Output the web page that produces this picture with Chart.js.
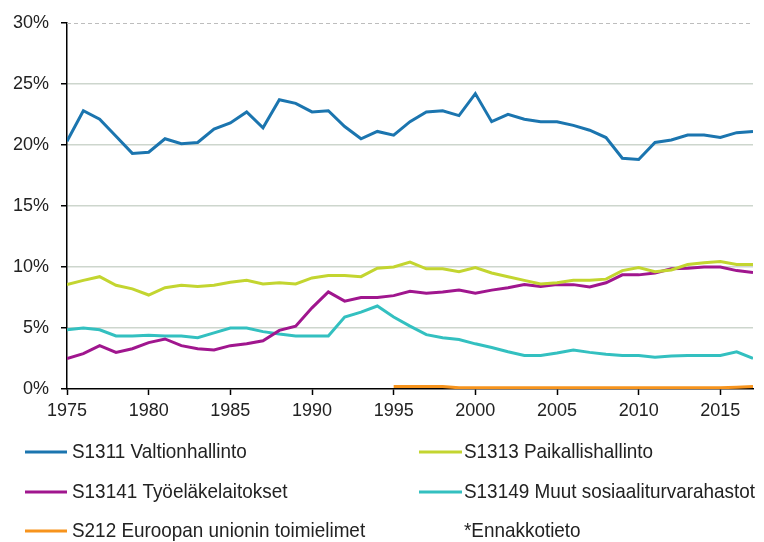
<!DOCTYPE html>
<html>
<head>
<meta charset="utf-8">
<script src="https://cdn.jsdelivr.net/npm/chart.js@4.4.0/dist/chart.umd.min.js"></script>
<style>
  html, body { margin: 0; padding: 0; background: #fff; }
  #wrap { width: 764px; height: 542px; }
</style>
</head>
<body>
<div id="wrap"><canvas id="chart" width="764" height="542"></canvas></div>
<script>
// years on the x axis
var years = [1975, 1976, 1977, 1978, 1979, 1980, 1981, 1982, 1983, 1984,
             1985, 1986, 1987, 1988, 1989, 1990, 1991, 1992, 1993, 1994,
             1995, 1996, 1997, 1998, 1999, 2000, 2001, 2002, 2003, 2004,
             2005, 2006, 2007, 2008, 2009, 2010, 2011, 2012, 2013, 2014,
             2015, 2016, 2017];

// share of total, %
var valtionhallinto = [20.3, 22.8, 22.1, 20.7, 19.3, 19.4, 20.5, 20.1, 20.2, 21.3,
                       21.8, 22.7, 21.4, 23.7, 23.4, 22.7, 22.8, 21.5, 20.5, 21.1,
                       20.8, 21.9, 22.7, 22.8, 22.4, 24.2, 21.9, 22.5, 22.1, 21.9,
                       21.9, 21.6, 21.2, 20.6, 18.9, 18.8, 20.2, 20.4, 20.8, 20.8,
                       20.6, 21.0, 21.1];
var paikallishallinto = [8.55, 8.9, 9.2, 8.5, 8.2, 7.7, 8.3, 8.5, 8.4, 8.5,
                         8.75, 8.9, 8.6, 8.7, 8.6, 9.1, 9.3, 9.3, 9.2, 9.9,
                         10.0, 10.4, 9.85, 9.85, 9.6, 9.95, 9.5, 9.2, 8.9, 8.6,
                         8.7, 8.9, 8.9, 9.0, 9.7, 9.95, 9.6, 9.75, 10.2, 10.35,
                         10.45, 10.2, 10.2];
var tyoelakelaitokset = [2.5, 2.9, 3.55, 3.0, 3.3, 3.8, 4.1, 3.55, 3.3, 3.2,
                         3.55, 3.7, 3.95, 4.8, 5.15, 6.65, 7.95, 7.2, 7.5, 7.5,
                         7.65, 8.0, 7.85, 7.95, 8.1, 7.85, 8.1, 8.3, 8.55, 8.4,
                         8.55, 8.55, 8.35, 8.7, 9.35, 9.35, 9.5, 9.85, 9.9, 10.0,
                         10.0, 9.7, 9.55];
var muutSosiaali = [4.85, 5.0, 4.85, 4.35, 4.35, 4.4, 4.35, 4.35, 4.2, 4.6,
                    5.0, 5.0, 4.7, 4.5, 4.35, 4.35, 4.35, 5.9, 6.3, 6.8,
                    5.9, 5.15, 4.45, 4.2, 4.05, 3.7, 3.4, 3.05, 2.75, 2.75,
                    2.95, 3.2, 3.0, 2.85, 2.75, 2.75, 2.6, 2.7, 2.75, 2.75,
                    2.75, 3.05, 2.5];
var euToimielimet = [null, null, null, null, null, null, null, null, null, null,
                     null, null, null, null, null, null, null, null, null, null,
                     0.2, 0.2, 0.2, 0.2, 0.1, 0.1, 0.1, 0.1, 0.1, 0.1,
                     0.1, 0.1, 0.1, 0.1, 0.1, 0.1, 0.1, 0.1, 0.1, 0.1,
                     0.1, 0.15, 0.2];

var yTicks = [0, 5, 10, 15, 20, 25, 30];
var xTickYears = [1975, 1980, 1985, 1990, 1995, 2000, 2005, 2010, 2015];

var seriesNames = ['S1311 Valtionhallinto', 'S1313 Paikallishallinto', 'S13141 Työeläkelaitokset',
                   'S13149 Muut sosiaaliturvarahastot', 'S212 Euroopan unionin toimielimet'];
var seriesColors = ['#1b75af', '#c3d530', '#a0168e', '#33c0c0', '#f7941d'];
var footNote = '*Ennakkotieto';

function toPoints(arr) {
	return years.map(function(y, i) { return {x: y, y: arr[i]}; });
}

var allSeries = [valtionhallinto, paikallishallinto, tyoelakelaitokset, muutSosiaali, euToimielimet];
var datasets = allSeries.map(function(arr, i) {
	return {
		label: seriesNames[i],
		data: toPoints(arr),
		borderColor: seriesColors[i],
		backgroundColor: seriesColors[i],
		borderWidth: 3,
		pointRadius: 0,
		tension: 0,
		spanGaps: false
	};
});

// draws the dashed top line and the two-column legend under the plot
var extras = {
	id: 'extras',
	beforeDatasetsDraw: function(chart) {
		var ctx = chart.ctx, a = chart.chartArea;
		var y = Math.round(chart.scales.y.getPixelForValue(30)) + 0.5;
		ctx.save();
		ctx.strokeStyle = '#bdbdbd';
		ctx.lineWidth = 1;
		ctx.setLineDash([4, 3]);
		ctx.beginPath();
		ctx.moveTo(a.left, y);
		ctx.lineTo(a.right, y);
		ctx.stroke();
		ctx.restore();
	},
	afterDraw: function(chart) {
		var ctx = chart.ctx;
		var cols = [{mx: 25, mw: 42, tx: 72}, {mx: 419, mw: 43, tx: 464}];
		var rows = [452, 492, 531];
		ctx.save();
		ctx.font = '21px "Liberation Sans", Arial, sans-serif';
		ctx.textBaseline = 'middle';
		ctx.fillStyle = '#222';
		chart.data.datasets.forEach(function(ds, i) {
			var c = cols[i % 2], r = rows[Math.floor(i / 2)];
			ctx.strokeStyle = ds.borderColor;
			ctx.lineWidth = 3;
			ctx.beginPath();
			ctx.moveTo(c.mx, r);
			ctx.lineTo(c.mx + c.mw, r);
			ctx.stroke();
			ctx.save();
			ctx.translate(c.tx, r);
			ctx.scale(0.9, 1);
			ctx.fillText(ds.label, 0, 0);
			ctx.restore();
		});
		ctx.save();
		ctx.translate(cols[1].tx, rows[2]);
		ctx.scale(0.9, 1);
		ctx.fillText(footNote, 0, 0);
		ctx.restore();
		ctx.restore();
	}
};

new Chart(document.getElementById('chart').getContext('2d'), {
	type: 'line',
	data: { datasets: datasets },
	plugins: [extras],
	options: {
		responsive: false,
		animation: false,
		devicePixelRatio: 1,
		layout: { padding: { top: 19, right: 11, bottom: 113, left: 0 } },
		plugins: {
			legend: { display: false },
			tooltip: { enabled: false }
		},
		scales: {
			x: {
				type: 'linear',
				min: years[0],
				max: years[years.length - 1],
				afterBuildTicks: function(scale) {
					scale.ticks = xTickYears.map(function(v) { return {value: v}; });
				},
				afterFit: function(scale) { scale.height = 40; },
				ticks: {
					font: { family: '"Liberation Sans", Arial, sans-serif', size: 18 },
					color: '#222',
					padding: 5,
					maxRotation: 0,
					callback: function(v) { return String(v); }
				},
				grid: { drawOnChartArea: false, drawTicks: true, tickLength: 6, tickColor: '#000', tickWidth: 1.5 },
				border: { color: '#000', width: 1.5 }
			},
			y: {
				min: 0,
				max: 30,
				afterBuildTicks: function(scale) {
					scale.ticks = yTicks.map(function(v) { return {value: v}; });
				},
				afterFit: function(scale) { scale.width = 67; },
				ticks: {
					font: { family: '"Liberation Sans", Arial, sans-serif', size: 18 },
					color: '#222',
					padding: 12,
					callback: function(v) { return v + '%'; }
				},
				grid: {
					drawTicks: true,
					tickLength: 6,
					tickColor: '#000',
					tickWidth: 1.5,
					color: function(c) {
						return (c.tick && (c.tick.value === 0 || c.tick.value === 30)) ? 'rgba(0,0,0,0)' : '#cdd6cd';
					},
					lineWidth: 1.5
				},
				border: { color: '#000', width: 1.5 }
			}
		}
	}
});
</script>
</body>
</html>
